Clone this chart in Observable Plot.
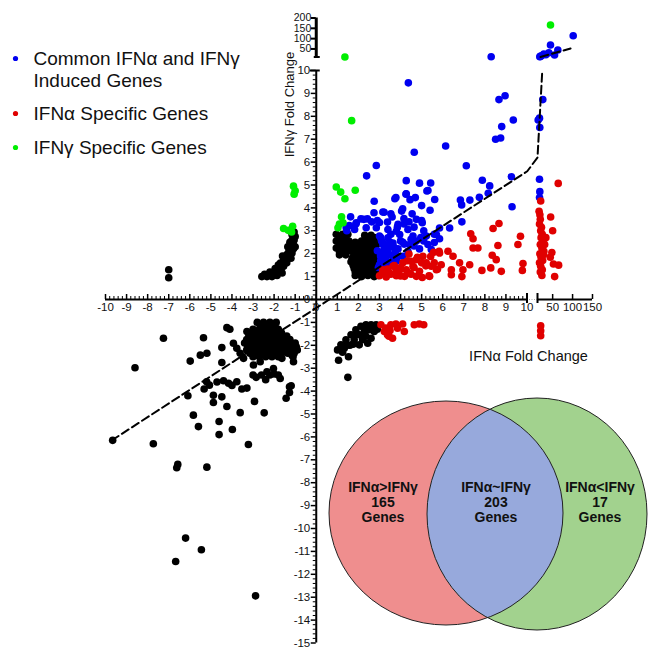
<!DOCTYPE html>
<html><head><meta charset="utf-8">
<script src="https://cdn.jsdelivr.net/npm/d3@7"></script>
<script src="https://cdn.jsdelivr.net/npm/@observablehq/plot@0.6"></script>
<style>
body{margin:0;background:#fff;}
#chart{position:relative;width:657px;height:648px;}
</style></head><body><div id="chart"></div>
<script>
// ---- data (fold changes: x = IFNα, y = IFNγ) ----
const commonGenes = [
[8.3,12],[4.37,9.46],[8.67,8.73],[8.96,8.9],[9.35,7.84],[8.8,7.55],[8.51,7.0],[8.75,7.05],[6.14,6.7],[4.65,6.43],
[7.12,5.84],[2.85,5.85],[2.39,5.4],[4.27,5.19],[4.9,5.08],[5.43,5.09],[5.25,4.74],[5.62,4.37],[4.27,4.62],[4.45,4.36],
[3.73,4.4],[2.75,4.29],[3.16,3.82],[2.74,3.79],[4.05,3.86],[1.63,3.61],[2.26,3.5],[2.63,3.39],[3.0,3.36],[3.6,3.6],
[4.16,3.53],[4.4,3.39],[4.75,3.5],[5.03,3.35],[7.88,5.21],[8.23,4.96],[8.16,4.64],[6.84,4.34],[7.29,4.34],[7.74,4.46],
[6.9,4.13],[9.29,4.05],[6.91,3.39],[6.33,3.12],[5.85,3.12],[1.42,3.13],[1.9,3.35],[1.82,3.06],[2.37,3.13],[2.85,3.13],
[3.4,3.06],[3.88,3.28],[3.8,2.98],[4.35,3.06],[3.0,2.77],[3.4,2.69],[3.96,2.84],[4.59,2.77],[4.75,2.55],[5.22,2.77],
[5.7,2.84],[5.85,2.65],[4.11,2.5],[3.64,2.47],[3.16,2.4],[4.43,2.4],[3.4,2.18],[3.88,2.21],[4.35,2.11],[3.09,2.03],
[3.64,1.89],[3.16,1.74],[4.11,1.89],[4.9,2.21],[5.3,2.4],[5.46,2.18],[3.0,1.52],[3.4,1.6],[3.8,1.67],[9.26,5.36],
[3.78,4.45],[4.26,4.6],[4.7,4.45],[5.3,4.76],[5.0,4.1],[5.4,3.9],[4.1,3.96],[4.55,3.74],[5.0,3.45],[3.54,3.74],
[3.22,3.81],[2.43,3.52],[2.9,3.45],[2.12,3.52],[1.88,3.3],[1.57,3.23],[1.45,3.0],[3.38,3.38],[3.85,3.16],[4.17,3.3],
[4.64,3.16],[5.1,3.0],[5.6,2.85],[4.96,2.7],[4.5,2.63],[4.0,2.56],[3.54,2.85],[3.06,2.7],[3.22,2.42],[3.7,2.27],
[4.17,2.42],[4.64,2.34],[5.1,2.56],[5.6,2.49],[2.9,2.13],[3.38,1.99],[3.85,1.84],[3.06,1.7],[3.54,1.62],[2.95,1.4],
[3.2,2.15],[3.5,1.95],[3.3,1.85],[3.6,2.3],[3.1,2.55],[3.5,2.5],[3.25,1.5],[3.05,1.9],[3.35,2.35],[3.75,2.05],
[17.8,12.5],[19,14],[22,17],[27.9,25.5],[33,22],[40.5,31.8],[54.8,20.7],[63,45],[44.6,69],[101.6,114],
[25.3,8.73],[17,7.92],[17.8,7.51],[17,5.25],[17.8,4.71],[17.1,4.45],[13.7,7.84]
];
const alphaGenes = [
[8.67,3.32],[8.39,3.1],[7.33,2.87],[7.44,2.65],[8.62,2.36],[9.57,2.4],[7.44,2.25],[7.67,2.25],[6.25,2.11],[6.49,1.89],
[5.85,2.03],[5.57,2.06],[8.35,1.93],[8.54,1.74],[8.28,1.38],[7.86,1.27],[8.78,1.23],[9.81,1.57],[9.78,1.27],[7.28,1.52],
[6.8,1.6],[6.96,1.3],[6.41,1.3],[5.93,1.52],[5.46,1.45],[5.7,1.3],[6.91,1.0],[6.41,1.08],[5.38,1.01],[5.06,1.89],
[5.22,1.6],[4.75,1.74],[4.59,1.45],[4.9,1.23],[4.43,1.16],[4.11,1.6],[3.96,1.3],[3.64,1.45],[3.48,1.16],[3.16,1.3],
[3.0,1.04],[3.32,0.98],[3.8,1.04],[4.19,1.01],[4.75,1.01],[4.27,1.3],[4.51,1.67],[3.8,1.23],[9.69,2.76],
[5.83,2.1],[5.43,1.88],[5.0,1.6],[4.64,1.4],[4.33,1.69],[4.0,1.4],[3.7,1.48],[3.38,1.33],[3.14,1.18],[3.54,1.1],
[4.0,1.03],[4.5,1.1],[5.03,0.96],[5.35,1.03],[5.75,1.32],[5.6,1.6],[5.2,1.47],[4.8,1.84],[4.4,1.99],
[20,4.3],[16,3.85],[18,3.7],[19,3.5],[17,3.3],[22,3.15],[20,3.0],[24,2.85],[21,2.7],[26,2.55],
[19,2.4],[23,2.25],[28,2.1],[18,2.0],[21,1.85],[25,1.7],[17,1.6],[20,1.45],[24,1.3],[19,1.2],
[23,1.05],[30,2.4],[33,2.7],[27,1.95],[45,3.6],[50,3.0],[48,2.05],[44,1.85],[52,1.55],[65,1.5],[55,1.0],[64,5.07],
[3.07,-1.1],[3.3,-1.25],[3.54,-1.1],[3.78,-1.07],[4.1,-1.07],[4.65,-1.1],[4.89,-1.07],[5.1,-1.1],[3.23,-1.4],[3.38,-1.54],
[3.62,-1.69],[3.5,-1.35],[4.18,-1.4],[3.86,-1.25],[3.45,-1.6],[20,-1.15],[20,-1.37],[20,-1.58]
];
const gammaGenes = [
[1.36,11],[1.68,7.81],[0.95,4.91],[1.16,4.69],[1.36,4.4],[1.85,4.77],[1.2,3.61],[1.27,3.35],[1.03,3.13],[1.1,3.3],
[-1.08,4.95],[-1.0,4.75],[-1.05,4.6],[-1.55,3.1],[-1.33,3.02],[-1.12,3.2],[-1.17,2.95],[44.6,166]
];
const otherGenes = [
[-2.58,1.0],[-2.34,1.0],[-2.1,1.0],[-1.86,1.05],[-1.62,1.16],[-2.02,1.16],[-1.78,1.3],[-1.55,1.45],[-1.7,1.59],[-1.47,1.67],
[-1.31,1.89],[-1.15,2.03],[-1.08,2.22],[-1.23,2.18],[-1.39,1.96],[-1.47,1.82],[-2.21,1.08],[-1.9,1.2],[-1.65,1.4],[-1.4,1.6],
[-1.2,1.8],[-1.0,2.3],[-1.1,2.45],[-1.15,2.84],[-1.05,2.95],[-1.3,2.1],[-1.05,2.6],[-7.0,0.95],[-7.0,1.3],
[-2.45,1.1],[-2.2,1.2],[-1.95,1.35],[-1.8,1.5],[-1.55,1.7],[-1.35,2.3],[-1.25,2.5],[-1.15,2.6],[-1.6,1.9],[-1.0,2.75],
[0.95,2.85],[1.25,2.85],[1.5,2.85],[2.3,2.8],[2.6,2.8],
[1.1,2.7],[1.4,2.7],[2.45,2.68],[2.75,2.7],
[0.95,2.55],[1.25,2.55],[1.55,2.55],[1.85,2.5],[2.15,2.55],[2.45,2.5],[2.75,2.55],
[1.1,2.4],[1.4,2.4],[1.7,2.4],[2.0,2.4],[2.3,2.4],[2.6,2.4],[2.85,2.38],
[0.95,2.25],[1.25,2.25],[1.55,2.2],[1.85,2.25],[2.15,2.2],[2.45,2.25],[2.75,2.2],
[1.1,2.1],[1.4,2.1],[1.7,2.1],[2.0,2.1],[2.3,2.1],[2.6,2.1],[2.85,2.08],
[1.1,1.95],[1.4,1.95],[1.85,1.95],[2.15,1.9],[2.45,1.95],[2.75,1.9],
[1.7,1.8],[2.0,1.8],[2.3,1.8],[2.6,1.8],[2.88,1.8],
[1.65,1.65],[1.9,1.6],[2.2,1.65],[2.5,1.6],[2.8,1.65],
[1.75,1.5],[2.05,1.5],[2.35,1.5],[2.65,1.5],[2.9,1.52],
[1.8,1.35],[2.1,1.3],[2.4,1.35],[2.7,1.3],[2.9,1.4],
[1.85,1.2],[2.0,1.18],[2.3,1.2],[2.6,1.2],[2.88,1.2],
[1.85,1.05],[2.15,1.0],[2.45,1.05],[2.75,1.0],[2.95,1.05],
[1.06,-2.65],[1.53,-2.5],[1.5,-3.4],[1.01,-2.2],[1.17,-1.98],[1.41,-1.76],[1.65,-1.54],[1.88,-1.32],[2.12,-1.17],[2.36,-1.1],
[2.6,-1.1],[2.84,-1.1],[1.8,-1.76],[2.04,-1.54],[2.28,-1.4],[2.51,-1.32],[2.75,-1.4],[2.6,-1.69],[2.04,-1.98],[1.33,-2.13],
[2.44,-1.91],[2.2,-1.75],[1.25,-2.3],[1.6,-2.0],[2.9,-1.3],[2.7,-1.2],[1.45,-2.0],[1.75,-1.95],[2.35,-1.6],[1.9,-1.5],
[-2.8,-1.0],[-2.5,-1.0],[-2.2,-1.0],[-1.9,-1.0],
[-2.65,-1.15],[-2.35,-1.15],[-2.05,-1.15],[-1.95,-1.2],
[-3.0,-1.3],[-2.7,-1.3],[-2.4,-1.3],[-2.1,-1.3],[-1.8,-1.3],
[-3.1,-1.45],[-2.85,-1.45],[-2.55,-1.45],[-2.25,-1.45],[-1.95,-1.45],[-1.65,-1.45],
[-3.2,-1.6],[-2.9,-1.6],[-2.6,-1.6],[-2.3,-1.6],[-2.0,-1.6],[-1.7,-1.6],[-1.4,-1.6],
[-3.3,-1.75],[-3.05,-1.75],[-2.75,-1.75],[-2.45,-1.75],[-2.15,-1.75],[-1.85,-1.75],[-1.55,-1.75],[-1.25,-1.75],
[-3.4,-1.9],[-3.1,-1.9],[-2.8,-1.9],[-2.5,-1.9],[-2.2,-1.9],[-1.9,-1.9],[-1.6,-1.9],[-1.3,-1.9],[-1.0,-1.9],
[-3.25,-2.05],[-2.95,-2.05],[-2.65,-2.05],[-2.35,-2.05],[-2.05,-2.05],[-1.75,-2.05],[-1.45,-2.05],[-1.15,-2.05],[-0.95,-2.05],
[-3.3,-2.2],[-3.0,-2.2],[-2.7,-2.2],[-2.4,-2.2],[-2.1,-2.2],[-1.8,-2.2],[-1.5,-2.2],[-1.2,-2.2],[-0.9,-2.2],
[-3.15,-2.35],[-2.85,-2.35],[-2.55,-2.35],[-2.25,-2.35],[-1.95,-2.35],[-1.65,-2.35],[-1.35,-2.35],[-1.05,-2.35],
[-3.0,-2.5],[-2.7,-2.5],[-2.4,-2.5],[-2.1,-2.5],[-1.8,-2.5],[-1.1,-2.5],
[-8.6,-2.98],[-7.25,-1.69],[-5.98,-2.69],[-5.35,-1.67],[-5.5,-2.43],[-5.19,-2.35],[-4.48,-2.1],[-4.24,-1.23],[-4.1,-1.3],[-4.48,-2.75],
[-3.93,-1.91],[-3.77,-2.13],[-3.61,-2.35],[-3.45,-2.57],[-3.29,-1.4],[-3.14,-1.69],[-3.21,-1.98],[-2.98,-2.86],[-2.66,-2.72],[-2.34,-3.16],
[-2.03,-3.01],[-1.71,-3.45],[-1.27,-3.81],[-1.63,-2.57],[-1.15,-2.43],[-1.08,-2.72],[-4.71,-3.6],
[-9.66,-6.15],[-7.73,-6.3],[-6.62,-7.35],[-6.57,-7.2],[-5.19,-7.32],[-6.09,-4.2],[-5.83,-5.05],[-5.59,-5.55],[-4.61,-5.9],[-4.61,-5.33],
[-3.98,-5.68],[-4.88,-4.18],[-4.88,-4.5],[-4.48,-4.25],[-4.24,-4.67],[-3.61,-4.94],[-2.93,-4.45],[-2.47,-4.95],[-3.22,-6.33],[-5.32,-3.91],
[-5.2,-3.59],[-5.07,-3.74],[-4.4,-3.55],[-4.16,-3.66],[-4.0,-3.75],[-3.77,-3.59],[-3.53,-3.91],[-3.29,-3.87],[-3.0,-3.3],[-2.85,-3.4],
[-2.6,-3.3],[-2.4,-3.5],[-2.2,-3.3],[-2.0,-3.25],[-1.8,-3.3],[-1.19,-3.77],[-1.27,-4.06],[-1.43,-4.31],
[-6.2,-10.42],[-5.45,-10.93],[-6.67,-11.44],[-2.88,-12.94]
];
// dashed trend, drawn in two pieces across the broken y axis
const trendLower = [[-9.7,-6.15],[10.05,5.6],[12,6.2],[24,10]];
const trendUpper = [[19.5,11],[95,52]];
// tick labels
const xTicks = d3.range(-10, 11);
const yTicks = d3.range(-15, 11);
const xUpperTicks = [50, 100, 150];
const yUpperTicks = [50, 100, 150, 200];
// legend & venn
const legendLabels = [["Common IFNα and IFNγ", "Induced Genes"], ["IFNα Specific Genes"], ["IFNγ Specific Genes"]];
const legendKeys = ["common", "alpha", "gamma"];
const vennTitles = ["IFNα>IFNγ", "IFNα~IFNγ", "IFNα<IFNγ"];
const vennCounts = [165, 203, 17];

// ---- styles / layout ----
const COLORS = {common: "#0000f0", alpha: "#e00000", gamma: "#00ee00", other: "#000"};
const FONT = '"Liberation Sans", Arial, Helvetica, sans-serif';

// Broken axes: lower segment linear, a small gap, then a compressed upper segment.
const XPX = {lo: 105, hi: 526.5, upLo: 537, upHi: 592};     // x: -10..10 | gap | 12..150
const YPX = {lo: 642.5, hi: 70, upLo: 56.5, upHi: 17.5};     // y: -15..10 | gap | 11..200
const xUnit = (XPX.hi - XPX.lo) / 20, yUnit = (YPX.lo - YPX.hi) / 25; // px per fold-change unit
const brokenX = v => v <= 10 ? v
  : v <= 12 ? 10 + (v - 10) * ((XPX.upLo - XPX.hi) / xUnit) / 2
  : 10 + (XPX.upLo - XPX.hi) / xUnit + (v - 12) * ((XPX.upHi - XPX.upLo) / xUnit) / 138;
const brokenY = v => v <= 10 ? v
  : v <= 11 ? 10 + (v - 10) * ((YPX.hi - YPX.upLo) / yUnit)
  : 10 + (YPX.hi - YPX.upLo) / yUnit + (v - 11) * ((YPX.upLo - YPX.upHi) / yUnit) / 189;
const TX = 1 / xUnit, TY = 1 / yUnit; // data units per pixel (lower segments)

const xMinor = d3.range(-10, 10.001, 0.2).filter(v => Math.abs(v - Math.round(v)) > 1e-6);
const yMinor = d3.range(-15, 10.001, 0.2).filter(v => Math.abs(v - Math.round(v)) > 1e-6);
const px = d => d[0], py = d => d[1];
const R = 3.8;

const legendY = [[58, 80], [113], [147]];
const legendMarks = legendLabels.flatMap((lines, i) => [
  Plot.dot([0], {frameAnchor: "top-left", dx: 15, dy: legendY[i][0], r: 2.6, fill: COLORS[legendKeys[i]]}),
  ...lines.map((t, j) => Plot.text([t], {frameAnchor: "top-left", dx: 33, dy: legendY[i][j], text: d => d,
    textAnchor: "start", lineAnchor: "middle", fontSize: 19, fill: "#111"}))
]);

const chart = Plot.plot({
  width: 657, height: 648, margin: 0,
  style: {fontFamily: FONT, background: "#fff", overflow: "visible"},
  x: {type: "linear", transform: brokenX, domain: [brokenX(-10), brokenX(150)], range: [XPX.lo, XPX.upHi]},
  y: {type: "linear", transform: brokenY, domain: [brokenY(-15), brokenY(200)], range: [YPX.lo, YPX.upHi]},
  marks: [
    // axis lines
    Plot.ruleY([0], {x1: -10, x2: 10, strokeWidth: 2}),
    Plot.ruleY([0], {x1: 12, x2: 150, strokeWidth: 2}),
    Plot.ruleY([0], {x1: 10, x2: 12, stroke: "#aaa", strokeWidth: 1, strokeDasharray: "1,1.5"}),
    Plot.ruleX([0], {y1: -15, y2: 10, strokeWidth: 2}),
    Plot.ruleX([0], {y1: 11, y2: 200, strokeWidth: 3}),
    // x ticks
    Plot.ruleX(xMinor, {x: d => d, y1: 0, y2: 3 * TY, strokeWidth: 1}),
    Plot.ruleX(xTicks, {x: d => d, y1: 0, y2: 5 * TY, strokeWidth: 1.5}),
    Plot.ruleX([10, 12], {x: d => d, y1: -4 * TY, y2: 6 * TY, strokeWidth: 2}),
    Plot.ruleX(xUpperTicks, {x: d => d, y1: 0, y2: 5 * TY, strokeWidth: 1.5}),
    // y ticks
    Plot.ruleY(yMinor, {y: d => d, x1: -3 * TX, x2: 0, strokeWidth: 1}),
    Plot.ruleY(yTicks, {y: d => d, x1: -5 * TX, x2: 0, strokeWidth: 1.5}),
    Plot.ruleY([10], {y: d => d, x1: -6 * TX, x2: 4 * TX, strokeWidth: 2}),
    Plot.ruleY([11], {y: d => d, x1: -2 * TX, x2: 4 * TX, strokeWidth: 2}),
    Plot.ruleY(yUpperTicks, {y: d => d, x1: -5 * TX, x2: 0, strokeWidth: 2}),
    // tick labels
    Plot.text(xTicks, {x: d => d, y: 0, dy: 8, text: d => String(d), fontSize: 11.5, fill: "#111"}),
    Plot.text(xUpperTicks, {x: d => d, y: 0, dy: 8, text: d => String(d), fontSize: 11.5, fill: "#111"}),
    Plot.text(yTicks, {x: 0, y: d => d, dx: -6, text: d => String(d), textAnchor: "end", fontSize: 11.5, fill: "#111"}),
    Plot.text(yUpperTicks, {x: 0, y: d => d, dx: -5, text: d => String(d), textAnchor: "end", fontSize: 10.5, fill: "#111"}),
    // axis titles
    Plot.text(["IFNγ Fold Change"], {frameAnchor: "top-left", dx: 289, dy: 104, rotate: -90, text: d => d,
      textAnchor: "middle", lineAnchor: "middle", fontSize: 13, fill: "#111"}),
    Plot.text(["IFNα Fold Change"], {frameAnchor: "top-left", dx: 528, dy: 356, text: d => d,
      textAnchor: "middle", lineAnchor: "middle", fontSize: 14.5, fill: "#111"}),
    // points
    Plot.dot(otherGenes, {x: px, y: py, r: R, fill: COLORS.other}),
    Plot.dot(commonGenes, {x: px, y: py, r: R, fill: COLORS.common}),
    Plot.dot(alphaGenes, {x: px, y: py, r: R, fill: COLORS.alpha}),
    Plot.dot(gammaGenes, {x: px, y: py, r: R, fill: COLORS.gamma}),
    // trend
    Plot.line(trendLower, {x: px, y: py, stroke: "#000", strokeWidth: 2, strokeDasharray: "8,4"}),
    Plot.line(trendUpper, {x: px, y: py, stroke: "#000", strokeWidth: 2, strokeDasharray: "8,4"}),
    ...legendMarks
  ]
});
document.getElementById("chart").appendChild(chart);

// ---- Venn diagram ----
const svg = d3.select(chart);
const red = {cx: 446, cy: 513, rx: 117, ry: 112};
const green = {cx: 537, cy: 514, rx: 110, ry: 116};
const defs = svg.append("defs");
defs.append("clipPath").attr("id", "clipGreen").append("ellipse")
  .attr("cx", green.cx).attr("cy", green.cy).attr("rx", green.rx).attr("ry", green.ry);
const g = svg.append("g");
const ell = (e) => g.append("ellipse").attr("cx", e.cx).attr("cy", e.cy).attr("rx", e.rx).attr("ry", e.ry);
ell(red).attr("fill", "#ef8e8e");
ell(green).attr("fill", "#a2d28e");
ell(red).attr("fill", "#97a9dc").attr("clip-path", "url(#clipGreen)");
ell(red).attr("fill", "none").attr("stroke", "#222").attr("stroke-width", 1);
ell(green).attr("fill", "none").attr("stroke", "#222").attr("stroke-width", 1);
const vennX = [383, 496, 600];
vennTitles.forEach((t, i) => {
  const lines = [t, String(vennCounts[i]), "Genes"];
  lines.forEach((s, j) => {
    g.append("text").attr("x", vennX[i]).attr("y", 487 + j * 15).attr("dy", "0.35em")
      .attr("text-anchor", "middle").attr("font-weight", "bold").attr("font-size", 14)
      .attr("font-family", FONT).attr("fill", "#111").text(s);
  });
});
</script></body></html>
